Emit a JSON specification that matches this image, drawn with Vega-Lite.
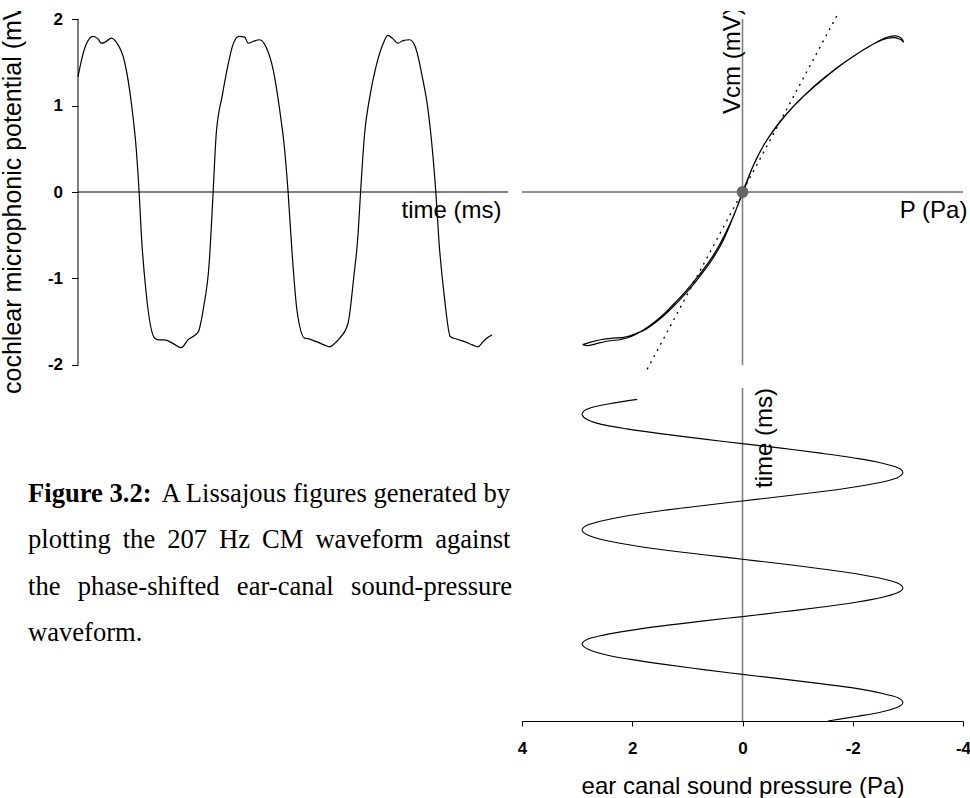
{
"$schema": "https://vega.github.io/schema/vega-lite/v6.json",
"background": "white",
"padding": {"left": 0, "top": 10, "right": 0, "bottom": 0},
"autosize": {"type": "pad"},
"config": {"view": {"stroke": null}, "font": "Liberation Sans", "axis": {"grid": false}},
"datasets": {
"one": [{}],
"cm": [
{"t":0,"v":1.33},{"t":0.11,"v":1.52},{"t":0.27,"v":1.71},{"t":0.49,"v":1.80},{"t":0.65,"v":1.77},{"t":0.76,"v":1.72},{"t":0.87,"v":1.73},{"t":1.09,"v":1.78},{"t":1.25,"v":1.73},{"t":1.52,"v":1.50},{"t":1.74,"v":1.02},{"t":1.90,"v":0.48},{"t":1.99,"v":0},{"t":2.06,"v":-0.48},{"t":2.22,"v":-1.17},{"t":2.50,"v":-1.69},{"t":2.66,"v":-1.71},{"t":2.82,"v":-1.71},{"t":3.09,"v":-1.75},{"t":3.36,"v":-1.80},{"t":3.58,"v":-1.71},{"t":3.91,"v":-1.62},{"t":4.09,"v":-1.33},{"t":4.27,"v":-0.83},{"t":4.40,"v":0},{"t":4.50,"v":0.67},{"t":4.70,"v":1.12},{"t":4.88,"v":1.46},{"t":5.05,"v":1.71},{"t":5.24,"v":1.80},{"t":5.43,"v":1.79},{"t":5.54,"v":1.72},{"t":5.70,"v":1.74},{"t":5.91,"v":1.76},{"t":6.13,"v":1.67},{"t":6.35,"v":1.42},{"t":6.57,"v":0.94},{"t":6.73,"v":0.48},{"t":6.84,"v":0},{"t":6.95,"v":-0.60},{"t":7.13,"v":-1.37},{"t":7.38,"v":-1.69},{"t":7.54,"v":-1.70},{"t":7.76,"v":-1.73},{"t":8.03,"v":-1.77},{"t":8.19,"v":-1.79},{"t":8.36,"v":-1.75},{"t":8.52,"v":-1.69},{"t":8.79,"v":-1.52},{"t":8.98,"v":-0.98},{"t":9.12,"v":-0.48},{"t":9.20,"v":0},{"t":9.33,"v":0.67},{"t":9.50,"v":1.10},{"t":9.71,"v":1.46},{"t":9.93,"v":1.71},{"t":10.09,"v":1.81},{"t":10.26,"v":1.77},{"t":10.42,"v":1.72},{"t":10.58,"v":1.75},{"t":10.80,"v":1.76},{"t":10.99,"v":1.67},{"t":11.21,"v":1.33},{"t":11.40,"v":0.94},{"t":11.56,"v":0.40},{"t":11.65,"v":0},{"t":11.75,"v":-0.56},{"t":11.94,"v":-1.25},{"t":12.12,"v":-1.67},{"t":12.32,"v":-1.70},{"t":12.59,"v":-1.73},{"t":12.86,"v":-1.77},{"t":13.02,"v":-1.79},{"t":13.19,"v":-1.73},{"t":13.35,"v":-1.68},{"t":13.48,"v":-1.65}
],
"lissajous": [
{"i":0,"p":-2.90,"v":-1.765},{"i":1,"p":-2.75,"v":-1.735},{"i":2,"p":-2.55,"v":-1.705},{"i":3,"p":-2.35,"v":-1.690},{"i":4,"p":-2.15,"v":-1.680},{"i":5,"p":-1.95,"v":-1.640},{"i":6,"p":-1.75,"v":-1.585},{"i":7,"p":-1.55,"v":-1.495},{"i":8,"p":-1.35,"v":-1.385},{"i":9,"p":-1.15,"v":-1.255},{"i":10,"p":-0.95,"v":-1.115},{"i":11,"p":-0.75,"v":-0.955},{"i":12,"p":-0.55,"v":-0.780},{"i":13,"p":-0.35,"v":-0.560},{"i":14,"p":-0.15,"v":-0.260},{"i":15,"p":0.05,"v":0.080},{"i":16,"p":0.25,"v":0.380},{"i":17,"p":0.45,"v":0.610},{"i":18,"p":0.65,"v":0.790},{"i":19,"p":0.85,"v":0.940},{"i":20,"p":1.05,"v":1.070},{"i":21,"p":1.30,"v":1.215},{"i":22,"p":1.55,"v":1.350},{"i":23,"p":1.80,"v":1.475},{"i":24,"p":2.05,"v":1.585},{"i":25,"p":2.30,"v":1.685},{"i":26,"p":2.50,"v":1.755},{"i":27,"p":2.65,"v":1.795},{"i":28,"p":2.78,"v":1.805},{"i":29,"p":2.87,"v":1.785},{"i":30,"p":2.92,"v":1.735},{"i":31,"p":2.86,"v":1.765},{"i":32,"p":2.76,"v":1.785},{"i":33,"p":2.62,"v":1.775},{"i":34,"p":2.45,"v":1.735},{"i":35,"p":2.25,"v":1.665},{"i":36,"p":2.00,"v":1.565},{"i":37,"p":1.75,"v":1.455},{"i":38,"p":1.50,"v":1.330},{"i":39,"p":1.25,"v":1.195},{"i":40,"p":1.00,"v":1.040},{"i":41,"p":0.80,"v":0.900},{"i":42,"p":0.60,"v":0.740},{"i":43,"p":0.40,"v":0.555},{"i":44,"p":0.20,"v":0.310},{"i":45,"p":0.00,"v":-0.020},{"i":46,"p":-0.20,"v":-0.330},{"i":47,"p":-0.40,"v":-0.590},{"i":48,"p":-0.60,"v":-0.800},{"i":49,"p":-0.80,"v":-0.970},{"i":50,"p":-1.00,"v":-1.125},{"i":51,"p":-1.20,"v":-1.265},{"i":52,"p":-1.40,"v":-1.395},{"i":53,"p":-1.60,"v":-1.505},{"i":54,"p":-1.80,"v":-1.595},{"i":55,"p":-2.00,"v":-1.665},{"i":56,"p":-2.20,"v":-1.705},{"i":57,"p":-2.40,"v":-1.720},{"i":58,"p":-2.60,"v":-1.745},{"i":59,"p":-2.80,"v":-1.775},{"i":60,"p":-2.90,"v":-1.765}
],
"tangent": [{"p":-1.73,"v":-2.05},{"p":1.73,"v":2.06}],
"pressure": [
{"t":0.48,"p":1.91},{"t":0.66,"p":2.41},{"t":0.83,"p":2.75},{"t":0.97,"p":2.88},{"t":1.11,"p":2.91},{"t":1.25,"p":2.87},{"t":1.39,"p":2.76},{"t":1.53,"p":2.56},{"t":1.72,"p":2.10},{"t":1.92,"p":1.49},{"t":2.14,"p":0.73},{"t":2.34,"p":0.00},{"t":2.54,"p":-0.74},{"t":2.75,"p":-1.45},{"t":2.95,"p":-2.05},{"t":3.15,"p":-2.52},{"t":3.35,"p":-2.82},{"t":3.46,"p":-2.89},{"t":3.56,"p":-2.91},{"t":3.66,"p":-2.88},{"t":3.78,"p":-2.80},{"t":3.96,"p":-2.52},{"t":4.15,"p":-2.06},{"t":4.35,"p":-1.45},{"t":4.55,"p":-0.74},{"t":4.75,"p":0.00},{"t":4.95,"p":0.74},{"t":5.15,"p":1.45},{"t":5.36,"p":2.06},{"t":5.57,"p":2.52},{"t":5.78,"p":2.83},{"t":5.88,"p":2.89},{"t":5.98,"p":2.91},{"t":6.08,"p":2.88},{"t":6.19,"p":2.80},{"t":6.39,"p":2.52},{"t":6.59,"p":2.06},{"t":6.80,"p":1.45},{"t":7.00,"p":0.74},{"t":7.20,"p":0.00},{"t":7.40,"p":-0.74},{"t":7.61,"p":-1.45},{"t":7.81,"p":-2.06},{"t":8.01,"p":-2.52},{"t":8.22,"p":-2.83},{"t":8.32,"p":-2.89},{"t":8.42,"p":-2.91},{"t":8.52,"p":-2.88},{"t":8.62,"p":-2.80},{"t":8.81,"p":-2.52},{"t":9.01,"p":-2.06},{"t":9.21,"p":-1.45},{"t":9.41,"p":-0.74},{"t":9.61,"p":0.00},{"t":9.80,"p":0.74},{"t":10.00,"p":1.45},{"t":10.20,"p":2.06},{"t":10.39,"p":2.52},{"t":10.58,"p":2.83},{"t":10.68,"p":2.89},{"t":10.77,"p":2.91},{"t":10.87,"p":2.88},{"t":10.98,"p":2.80},{"t":11.19,"p":2.52},{"t":11.40,"p":2.06},{"t":11.61,"p":1.45},{"t":11.83,"p":0.74},{"t":12.04,"p":0.00},{"t":12.24,"p":-0.74},{"t":12.44,"p":-1.45},{"t":12.63,"p":-2.06},{"t":12.83,"p":-2.52},{"t":13.03,"p":-2.83},{"t":13.13,"p":-2.89},{"t":13.23,"p":-2.91},{"t":13.33,"p":-2.88},{"t":13.43,"p":-2.80},{"t":13.62,"p":-2.52},{"t":13.81,"p":-2.06},{"t":14.00,"p":-1.55}
],
"caption": [
{"line":1,"role":"label","text":"Figure 3.2:"},
{"line":1,"role":"body","text":"A Lissajous figures generated by"},
{"line":2,"role":"body","text":"plotting \u2009the \u2009207 \u2009Hz \u2009CM \u2009waveform \u2009against"},
{"line":3,"role":"body","text":"the \u2009\u2009phase-shifted \u2009\u2009ear-canal \u2009\u2009sound-pressure"},
{"line":4,"role":"body","text":"waveform."}
]
},
"bounds": "flush",
"spacing": 12,
"hconcat": [
{
"width": 510,
"height": 650,
"resolve": {"scale": {"x": "independent", "y": "independent"}},
"layer": [
{
"data": {"name": "one"},
"mark": {"type": "rule", "color": "black", "strokeWidth": 1},
"encoding": {
"x": {"datum": 0, "type": "quantitative", "scale": {"domain": [-2.5395, 14.065], "nice": false, "zero": false}, "axis": null},
"x2": {"datum": 14},
"y": {"datum": 0, "type": "quantitative", "scale": {"domain": [-5.422, 2.0925], "nice": false, "zero": false}, "axis": null}
}
},
{
"data": {"name": "one"},
"mark": {"type": "rule", "color": "black", "strokeWidth": 1},
"encoding": {
"x": {"datum": 0, "type": "quantitative", "scale": {"domain": [-2.5395, 14.065], "nice": false, "zero": false}, "axis": null},
"y": {"datum": -2, "type": "quantitative", "scale": {"domain": [-5.422, 2.0925], "nice": false, "zero": false}, "axis": null},
"y2": {"datum": 2}
}
},
{
"data": {"name": "cm"},
"mark": {"type": "line", "color": "black", "strokeWidth": 1.2, "interpolate": "monotone"},
"encoding": {
"x": {"field": "t", "type": "quantitative", "scale": {"domain": [-2.5395, 14.065], "nice": false, "zero": false}, "axis": null},
"y": {"field": "v", "type": "quantitative", "scale": {"domain": [-5.422, 2.0925], "nice": false, "zero": false},
"axis": {"orient": "left", "offset": -78, "values": [-2, -1, 0, 1, 2], "domain": false, "grid": false, "ticks": true, "tickSize": 6.5, "tickColor": "black", "tickWidth": 1, "labelFont": "Liberation Sans", "labelFontWeight": "bold", "labelFontSize": 17, "labelColor": "black", "labelPadding": 9, "labelOverlap": false, "labelFlush": false, "labelExpr": "datum.value < 0 ? '-' + abs(datum.value) : '' + datum.value", "title": null}}
}
},
{
"data": {"name": "one"},
"mark": {"type": "text", "angle": 270, "align": "left", "baseline": "alphabetic", "font": "Liberation Sans", "fontSize": 25, "color": "black", "clip": true},
"encoding": {
"x": {"datum": -1.856, "type": "quantitative", "scale": {"domain": [-2.5395, 14.065], "nice": false, "zero": false}, "axis": null},
"y": {"datum": -2.335, "type": "quantitative", "scale": {"domain": [-5.422, 2.0925], "nice": false, "zero": false}, "axis": null},
"text": {"value": "cochlear microphonic potential (mV)"}
}
},
{
"data": {"name": "one"},
"mark": {"type": "text", "align": "right", "baseline": "alphabetic", "font": "Liberation Sans", "fontSize": 24, "color": "black"},
"encoding": {
"x": {"datum": 13.79, "type": "quantitative", "scale": {"domain": [-2.5395, 14.065], "nice": false, "zero": false}, "axis": null},
"y": {"datum": -0.295, "type": "quantitative", "scale": {"domain": [-5.422, 2.0925], "nice": false, "zero": false}, "axis": null},
"text": {"value": "time (ms)"}
}
},
{
"data": {"name": "caption"},
"transform": [{"filter": "datum.role == 'label'"}],
"mark": {"type": "text", "align": "left", "baseline": "alphabetic", "font": "Liberation Serif", "fontSize": 26.6, "fontWeight": "bold", "color": "black"},
"encoding": {
"x": {"datum": 0, "type": "quantitative", "scale": {"domain": [-0.0581, 1], "nice": false, "zero": false}, "axis": null},
"y": {"field": "line", "type": "quantitative", "scale": {"domain": [-9.582, 4.427], "reverse": true, "nice": false, "zero": false}, "axis": null},
"text": {"field": "text"}
}
},
{
"data": {"name": "caption"},
"transform": [{"filter": "datum.role == 'body' && datum.line == 1"}],
"mark": {"type": "text", "align": "right", "baseline": "alphabetic", "font": "Liberation Serif", "fontSize": 26.6, "color": "black"},
"encoding": {
"x": {"datum": 1, "type": "quantitative", "scale": {"domain": [-0.0581, 1], "nice": false, "zero": false}, "axis": null},
"y": {"field": "line", "type": "quantitative", "scale": {"domain": [-9.582, 4.427], "reverse": true, "nice": false, "zero": false}, "axis": null},
"text": {"field": "text"}
}
},
{
"data": {"name": "caption"},
"transform": [{"filter": "datum.role == 'body' && datum.line > 1"}],
"mark": {"type": "text", "align": "left", "baseline": "alphabetic", "font": "Liberation Serif", "fontSize": 26.6, "color": "black"},
"encoding": {
"x": {"datum": 0, "type": "quantitative", "scale": {"domain": [-0.0581, 1], "nice": false, "zero": false}, "axis": null},
"y": {"field": "line", "type": "quantitative", "scale": {"domain": [-9.582, 4.427], "reverse": true, "nice": false, "zero": false}, "axis": null},
"text": {"field": "text"}
}
}
]
},
{
"width": 441,
"height": 710,
"resolve": {"scale": {"x": "independent", "y": "independent"}},
"layer": [
{
"data": {"name": "one"},
"mark": {"type": "rule", "color": "#222222", "strokeWidth": 1},
"encoding": {
"x": {"datum": -4, "type": "quantitative", "scale": {"domain": [-4, 4], "nice": false, "zero": false}, "axis": null},
"x2": {"datum": 4},
"y": {"datum": 0, "type": "quantitative", "scale": {"domain": [-6.1156, 2.0925], "nice": false, "zero": false}, "axis": null}
}
},
{
"data": {"name": "one"},
"mark": {"type": "rule", "color": "#808080", "strokeWidth": 1.6},
"encoding": {
"x": {"datum": 0, "type": "quantitative", "scale": {"domain": [-4, 4], "nice": false, "zero": false}, "axis": null},
"y": {"datum": -2, "type": "quantitative", "scale": {"domain": [-6.1156, 2.0925], "nice": false, "zero": false}, "axis": null},
"y2": {"datum": 2}
}
},
{
"data": {"name": "tangent"},
"mark": {"type": "line", "color": "black", "strokeWidth": 1.3, "strokeDash": [2, 5]},
"encoding": {
"x": {"field": "p", "type": "quantitative", "scale": {"domain": [-4, 4], "nice": false, "zero": false}, "axis": null},
"y": {"field": "v", "type": "quantitative", "scale": {"domain": [-6.1156, 2.0925], "nice": false, "zero": false}, "axis": null}
}
},
{
"data": {"name": "lissajous"},
"mark": {"type": "line", "color": "black", "strokeWidth": 1.2, "interpolate": "catmull-rom"},
"encoding": {
"x": {"field": "p", "type": "quantitative", "scale": {"domain": [-4, 4], "nice": false, "zero": false}, "axis": null},
"y": {"field": "v", "type": "quantitative", "scale": {"domain": [-6.1156, 2.0925], "nice": false, "zero": false}, "axis": null},
"order": {"field": "i", "type": "quantitative"}
}
},
{
"data": {"name": "one"},
"mark": {"type": "point", "filled": true, "size": 140, "color": "#666666", "opacity": 1},
"encoding": {
"x": {"datum": 0, "type": "quantitative", "scale": {"domain": [-4, 4], "nice": false, "zero": false}, "axis": null},
"y": {"datum": 0, "type": "quantitative", "scale": {"domain": [-6.1156, 2.0925], "nice": false, "zero": false}, "axis": null}
}
},
{
"data": {"name": "one"},
"mark": {"type": "text", "angle": 270, "align": "left", "baseline": "alphabetic", "font": "Liberation Sans", "fontSize": 24, "color": "black", "clip": true},
"encoding": {
"x": {"datum": -0.054, "type": "quantitative", "scale": {"domain": [-4, 4], "nice": false, "zero": false}, "axis": null},
"y": {"datum": 0.902, "type": "quantitative", "scale": {"domain": [-6.1156, 2.0925], "nice": false, "zero": false}, "axis": null},
"text": {"value": "Vcm (mV)"}
}
},
{
"data": {"name": "one"},
"mark": {"type": "text", "align": "right", "baseline": "alphabetic", "font": "Liberation Sans", "fontSize": 24, "color": "black"},
"encoding": {
"x": {"datum": 4.08, "type": "quantitative", "scale": {"domain": [-4, 4], "nice": false, "zero": false}, "axis": null},
"y": {"datum": -0.295, "type": "quantitative", "scale": {"domain": [-6.1156, 2.0925], "nice": false, "zero": false}, "axis": null},
"text": {"value": "P (Pa)"}
}
},
{
"data": {"name": "one"},
"mark": {"type": "rule", "color": "#808080", "strokeWidth": 1.6},
"encoding": {
"x": {"datum": 0, "type": "quantitative", "scale": {"domain": [-4, 4], "reverse": true, "nice": false, "zero": false}, "axis": null},
"y": {"datum": 0, "type": "quantitative", "scale": {"domain": [-15.85, 14.0], "reverse": true, "nice": false, "zero": false}, "axis": null},
"y2": {"datum": 14}
}
},
{
"data": {"name": "pressure"},
"mark": {"type": "line", "color": "black", "strokeWidth": 1.1, "interpolate": "catmull-rom"},
"encoding": {
"x": {"field": "p", "type": "quantitative", "scale": {"domain": [-4, 4], "reverse": true, "nice": false, "zero": false},
"axis": {"orient": "bottom", "values": [-4, -2, 0, 2, 4], "domain": true, "domainColor": "black", "domainWidth": 1, "ticks": true, "tickSize": 5, "tickColor": "black", "tickWidth": 1, "grid": false, "labelFont": "Liberation Sans", "labelFontWeight": "bold", "labelFontSize": 17, "labelColor": "black", "labelPadding": 14, "labelFlush": false, "labelOverlap": false, "labelExpr": "datum.value < 0 ? '-' + abs(datum.value) : '' + datum.value", "title": "ear canal sound pressure (Pa)", "titleFont": "Liberation Sans", "titleFontSize": 24, "titleFontWeight": "normal", "titleColor": "black", "titlePadding": 18}},
"y": {"field": "t", "type": "quantitative", "scale": {"domain": [-15.85, 14.0], "reverse": true, "nice": false, "zero": false}, "axis": null},
"order": {"field": "t", "type": "quantitative"}
}
},
{
"data": {"name": "one"},
"mark": {"type": "text", "angle": 270, "align": "left", "baseline": "alphabetic", "font": "Liberation Sans", "fontSize": 24, "color": "black"},
"encoding": {
"x": {"datum": -0.544, "type": "quantitative", "scale": {"domain": [-4, 4], "reverse": true, "nice": false, "zero": false}, "axis": null},
"y": {"datum": 4.2, "type": "quantitative", "scale": {"domain": [-15.85, 14.0], "reverse": true, "nice": false, "zero": false}, "axis": null},
"text": {"value": "time (ms)"}
}
}
]
}
]
}
